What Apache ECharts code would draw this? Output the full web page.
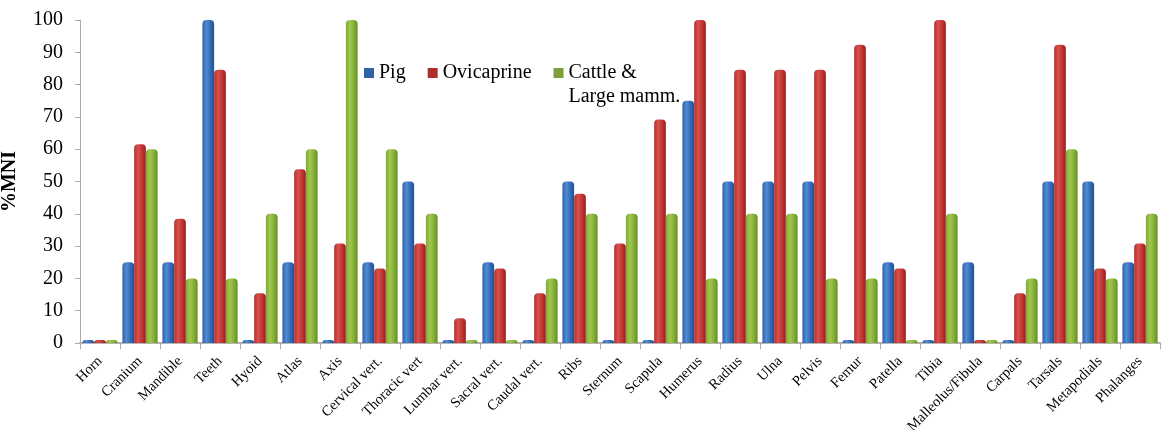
<!DOCTYPE html>
<html>
<head>
<meta charset="utf-8">
<script src="https://cdn.jsdelivr.net/npm/echarts@6/dist/echarts.min.js"></script>
<style>
  html, body { margin: 0; padding: 0; background: #fff; }
  #chart { width: 1164px; height: 430px; }
</style>
</head>
<body>
<div id="chart"></div>
<script>
// Skeletal elements (x-axis categories)
const elements = ['Horn', 'Cranium', 'Mandible', 'Teeth', 'Hyoid', 'Atlas', 'Axis',
  'Cervical vert.', 'Thoracic vert', 'Lumbar vert.', 'Sacral vert.', 'Caudal vert.',
  'Ribs', 'Sternum', 'Scapula', 'Humerus', 'Radius', 'Ulna', 'Pelvis', 'Femur',
  'Patella', 'Tibia', 'Malleolus/Fibula', 'Carpals', 'Tarsals', 'Metapodials', 'Phalanges'];

// %MNI per taxon
const pig = [0, 25, 25, 100, 0, 25, 0, 25, 50, 0, 25, 0, 50, 0, 0, 75, 50, 50, 50, 0,
  25, 0, 25, 0, 50, 50, 25];
const ovicaprine = [0, 61.5, 38.5, 84.6, 15.4, 53.8, 30.8, 23.1, 30.8, 7.7, 23.1, 15.4,
  46.2, 30.8, 69.2, 100, 84.6, 84.6, 84.6, 92.3, 23.1, 100, 0, 15.4, 92.3, 23.1, 30.8];
const cattle = [0, 60, 20, 20, 40, 60, 100, 60, 40, 0, 0, 20, 40, 40, 40, 20, 40, 40,
  20, 20, 0, 40, 0, 20, 60, 20, 40];

const yTicks = [0, 10, 20, 30, 40, 50, 60, 70, 80, 90, 100];

const serif = '"Liberation Serif", "DejaVu Serif", serif';

// Cylinder-like shading across each bar
function shade(dark, light, edge) {
  return {
    type: 'linear', x: 0, y: 0, x2: 1, y2: 0,
    colorStops: [
      { offset: 0, color: dark },
      { offset: 0.35, color: light },
      { offset: 0.75, color: dark },
      { offset: 1, color: edge }
    ]
  };
}

const taxa = [
  { name: 'Pig', data: pig, fill: shade('#2f66ad', '#4f8ad6', '#24508a'), key: '#2e63a8' },
  { name: 'Ovicaprine', data: ovicaprine, fill: shade('#b7302f', '#d9504d', '#8f2423'), key: '#ad2f2d' },
  { name: 'Cattle & Large mamm.', data: cattle, fill: shade('#80aa35', '#a0c84f', '#66892a'), key: '#7d9f39' }
];

const chart = echarts.init(document.getElementById('chart'), null, { renderer: 'canvas' });

chart.setOption({
  animation: false,
  backgroundColor: '#fff',
  grid: { left: 80, right: 4, top: 20, bottom: 87, containLabel: false, outerBoundsMode: 'none' },
  legend: {
    left: 359, top: 32,
    itemWidth: 10, itemHeight: 10, itemGap: 22,
    icon: 'rect',
    textStyle: { fontFamily: serif, fontSize: 20, color: '#000', lineHeight: 24 },
    data: [
      { name: 'Pig', itemStyle: { color: taxa[0].key } },
      { name: 'Ovicaprine', itemStyle: { color: taxa[1].key } },
      { name: 'Cattle & Large mamm.', itemStyle: { color: taxa[2].key } }
    ],
    // the blank first line keeps the key square level with "Cattle &"
    formatter: function (n) {
      return n === 'Cattle & Large mamm.' ? ' \nCattle &\nLarge mamm.' : n;
    }
  },
  xAxis: {
    type: 'category',
    data: elements,
    axisLine: { lineStyle: { color: '#b5b5b5', width: 2 } },
    axisTick: { show: true, length: 6, lineStyle: { color: '#aaa' } },
    axisLabel: {
      interval: 0, rotate: 45, fontFamily: serif, fontSize: 14.5, color: '#000', margin: 16
    }
  },
  yAxis: {
    type: 'value',
    min: yTicks[0], max: yTicks[yTicks.length - 1], interval: 10,
    name: '%MNI',
    nameLocation: 'middle', nameGap: 60, nameRotate: 90,
    nameTextStyle: { fontFamily: serif, fontSize: 20, fontWeight: 'bold', color: '#000' },
    axisLine: { show: true, lineStyle: { color: '#aaa' } },
    axisTick: { show: true, length: 5, lineStyle: { color: '#aaa' } },
    splitLine: { show: false },
    axisLabel: { fontFamily: serif, fontSize: 20, color: '#000', margin: 17 }
  },
  series: taxa.map(t => ({
    type: 'bar',
    name: t.name,
    data: t.data,
    barGap: '0%',
    barCategoryGap: '12%',
    barMinHeight: 3,
    itemStyle: { color: t.fill, borderRadius: [4, 4, 0, 0] }
  }))
});
</script>
</body>
</html>
